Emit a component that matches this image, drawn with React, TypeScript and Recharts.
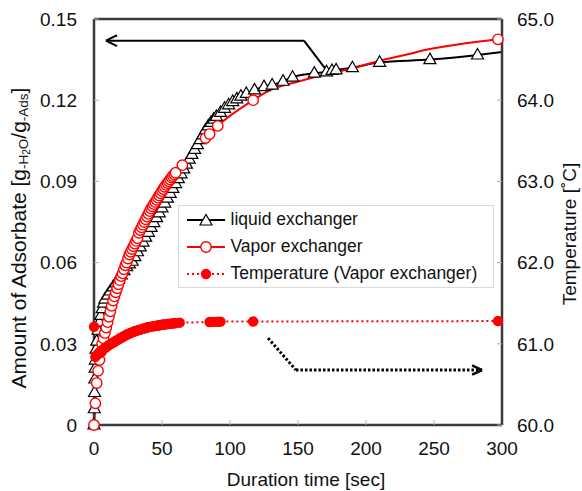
import { ComposedChart, Line, XAxis, YAxis, ReferenceLine, Legend } from 'recharts';

const FONT = '"Liberation Sans", Arial, sans-serif';

const timeTicks = [0, 50, 100, 150, 200, 250, 300];
const amountTicks = [0, 0.03, 0.06, 0.09, 0.12, 0.15];
const tempTicks = [60, 61, 62, 63, 64, 65];

// liquid exchanger, triangle markers
const liquidTime = [
  0, 0.2, 0.4, 0.6, 0.8, 1, 1.5, 2, 3, 4, 5, 6, 7, 8, 10, 12, 14, 16, 18, 20, 22, 24, 26, 28, 30, 32, 34,
  36, 38, 40, 42, 44, 46, 48, 50, 52, 54, 56, 58, 60, 62, 64, 66, 68, 70, 72, 74, 76, 78, 80, 82, 84, 86,
  88, 90, 93, 96, 99, 102, 105, 108, 112, 118, 125, 131, 139, 146, 162, 171, 175, 178, 190, 210, 247, 282,
];
const liquidAmount = [
  0, 0.006, 0.012, 0.017, 0.021, 0.024, 0.028, 0.031, 0.035, 0.038, 0.0405, 0.043, 0.045, 0.0465, 0.048,
  0.0495, 0.051, 0.0525, 0.054, 0.0555, 0.057, 0.0585, 0.0595, 0.0605, 0.0622, 0.064, 0.0658, 0.0676,
  0.0694, 0.0712, 0.073, 0.0748, 0.0766, 0.0784, 0.0802, 0.082, 0.0838, 0.0856, 0.0874, 0.0892, 0.091,
  0.0928, 0.0946, 0.0964, 0.0982, 0.1, 0.1018, 0.1036, 0.1054, 0.1072, 0.109, 0.1105, 0.1118, 0.113,
  0.114, 0.1155, 0.117, 0.1183, 0.1195, 0.1205, 0.1215, 0.1225, 0.1238, 0.125, 0.1256, 0.127, 0.1285,
  0.13, 0.1305, 0.131, 0.1312, 0.132, 0.134, 0.135, 0.1367,
];
// line runs on to the right edge after the last triangle
const liquidTailTime = [300];
const liquidTailAmount = [0.1378];

// vapor exchanger, open circles
const vaporTime = [
  0, 1, 2, 3, 4, 5, 6, 7, 8, 9, 10, 11, 12, 13, 14, 15, 16, 17, 18, 19, 20, 21, 22, 23, 24, 25, 26, 27, 28,
  29, 30, 31, 32, 33, 34, 35, 36, 37, 38, 39, 40, 41, 42, 43, 44, 45, 46, 47, 48, 49, 50, 51, 52, 53, 54,
  55, 56, 57, 58, 59, 60, 65, 82, 85, 91, 117, 297,
];
const vaporAmount = [
  0, 0.008, 0.0155, 0.02, 0.024, 0.027, 0.03, 0.032, 0.034, 0.036, 0.038, 0.04, 0.042, 0.044, 0.046,
  0.0475, 0.049, 0.0505, 0.052, 0.0535, 0.055, 0.056, 0.0575, 0.059, 0.06, 0.0615, 0.063, 0.064, 0.065,
  0.066, 0.067, 0.068, 0.069, 0.071, 0.072, 0.073, 0.074, 0.075, 0.076, 0.077, 0.078, 0.079, 0.08,
  0.0808, 0.0816, 0.0824, 0.0832, 0.084, 0.0848, 0.0856, 0.0864, 0.0872, 0.088, 0.0887, 0.0894, 0.09,
  0.0907, 0.0914, 0.092, 0.0926, 0.0932, 0.096, 0.106, 0.1075, 0.1105, 0.12, 0.1425,
];
// points on the fitted red curve between the last two circles
const vaporCurveTime = [127, 151, 170, 188, 210, 230, 247, 265, 282];
const vaporCurveAmount = [0.1231, 0.127, 0.1295, 0.1315, 0.1346, 0.1369, 0.1389, 0.1404, 0.1416];

// temperature (vapor exchanger), filled dots
const tempTime = [
  0, 1, 2, 3, 4, 5, 6, 7, 8, 9, 10, 11, 12, 13, 14, 15, 16, 17, 18, 19, 20, 21, 22, 23, 24, 25, 26, 27, 28,
  29, 30, 31, 32, 33, 34, 35, 36, 37, 38, 39, 40, 41, 42, 43, 44, 45, 46, 47, 48, 49, 50, 51, 52, 53, 54,
  55, 56, 57, 58, 59, 60, 63, 85, 87, 89, 91, 93, 117, 297,
];
const tempValue = [
  61.21, 60.84, 60.86, 60.875, 60.89, 60.905, 60.92, 60.935, 60.948, 60.96, 60.972, 60.984, 60.995,
  61.005, 61.015, 61.025, 61.035, 61.045, 61.055, 61.065, 61.075, 61.084, 61.093, 61.102, 61.111, 61.12,
  61.127, 61.134, 61.141, 61.148, 61.155, 61.16, 61.165, 61.17, 61.175, 61.18, 61.185, 61.19, 61.195,
  61.2, 61.205, 61.208, 61.211, 61.214, 61.217, 61.22, 61.223, 61.226, 61.229, 61.232, 61.235, 61.237,
  61.239, 61.241, 61.243, 61.245, 61.247, 61.249, 61.251, 61.253, 61.255, 61.26, 61.268, 61.27, 61.27,
  61.272, 61.273, 61.275, 61.28,
];

type Pt = { t: number; v: number; m: boolean };

const toSeries = (ts: number[], vs: number[], marked: boolean): Pt[] =>
  ts.map((t, i) => ({ t, v: vs[i], m: marked }));

const liquidData = [
  ...toSeries(liquidTime, liquidAmount, true),
  ...toSeries(liquidTailTime, liquidTailAmount, false),
].sort((a, b) => a.t - b.t);
const vaporData = [
  ...toSeries(vaporTime, vaporAmount, true),
  ...toSeries(vaporCurveTime, vaporCurveAmount, false),
].sort((a, b) => a.t - b.t);
const tempData = toSeries(tempTime, tempValue, true);

const triangle = (cx: number, cy: number) =>
  `M${cx},${cy - 6.5} L${cx + 6},${cy + 4} L${cx - 6},${cy + 4} Z`;

const TriangleDot = (p: any) =>
  p.payload && p.payload.m ? (
    <path key={`l${p.index}`} d={triangle(p.cx, p.cy)} fill="#fff" stroke="#000" strokeWidth={1.2} />
  ) : (
    <g key={`l${p.index}`} />
  );

const CircleDot = (p: any) =>
  p.payload && p.payload.m ? (
    <circle key={`v${p.index}`} cx={p.cx} cy={p.cy} r={5.2} fill="#fff" stroke="#ff0000" strokeWidth={1.4} />
  ) : (
    <g key={`v${p.index}`} />
  );

const FilledDot = (p: any) => (
  <circle key={`t${p.index}`} cx={p.cx} cy={p.cy} r={5.2} fill="#ff0000" stroke="none" />
);

function AmountTitle({ viewBox }: any) {
  const x = viewBox.x + 18;
  const y = viewBox.y + viewBox.height / 2 + 16;
  return (
    <text
      x={x}
      y={y}
      transform={`rotate(-90, ${x}, ${y})`}
      textAnchor="middle"
      dominantBaseline="central"
      fontFamily={FONT}
      fontSize={21}
      fill="#111"
    >
      Amount of Adsorbate [g
      <tspan fontSize={13.5} dy={5}>-H</tspan>
      <tspan fontSize={10} dy={3}>2</tspan>
      <tspan fontSize={13.5} dy={-3}>O</tspan>
      <tspan dy={-5}>/g</tspan>
      <tspan fontSize={13.5} dy={5}>-Ads</tspan>
      <tspan dy={-5}>]</tspan>
    </text>
  );
}

function TempTitle({ viewBox }: any) {
  const x = viewBox.x + 67;
  const y = viewBox.y + viewBox.height / 2 + 12;
  return (
    <text
      x={x}
      y={y}
      transform={`rotate(-90, ${x}, ${y})`}
      textAnchor="middle"
      dominantBaseline="central"
      fontFamily={FONT}
      fontSize={19}
      fill="#111"
    >
      Temperature [˚C]
    </text>
  );
}

const legendItems = [
  { name: 'liquid exchanger', color: '#000', kind: 'tri' },
  { name: 'Vapor exchanger', color: '#ff0000', kind: 'open' },
  { name: 'Temperature (Vapor exchanger)', color: '#ff0000', kind: 'dot' },
];

function LegendBox() {
  return (
    <div
      style={{
        border: '1.5px solid #d9d9d9',
        background: '#fff',
        width: 306,
        paddingLeft: 7.5,
        fontFamily: FONT,
        fontSize: 17.5,
        color: '#111',
      }}
    >
      {legendItems.map((it) => (
        <div key={it.name} style={{ display: 'flex', alignItems: 'center', height: 27 }}>
          <svg width={38} height={16} style={{ marginRight: 6 }}>
            <line
              x1={0}
              y1={8}
              x2={38}
              y2={8}
              stroke={it.color}
              strokeWidth={2}
              strokeDasharray={it.kind === 'dot' ? '2 3' : undefined}
            />
            {it.kind === 'tri' && <path d={triangle(19, 9)} fill="#fff" stroke="#000" strokeWidth={1.2} />}
            {it.kind === 'open' && <circle cx={19} cy={8} r={5.2} fill="#fff" stroke="#ff0000" strokeWidth={1.4} />}
            {it.kind === 'dot' && <circle cx={19} cy={8} r={5.2} fill="#ff0000" />}
          </svg>
          <span>{it.name}</span>
        </div>
      ))}
    </div>
  );
}

const frame = { stroke: '#3a3a3a', strokeWidth: 2.5 };
const tickLine = { stroke: '#b0b0b0', strokeWidth: 1 };
const tickStyle = { fill: '#111', fontSize: 19, fontFamily: FONT };

export default function App() {
  return (
    <div style={{ width: 582, height: 491, background: '#fff' }}>
      <style>{'body{margin:0}'}</style>
      <ComposedChart width={582} height={491} margin={{ top: 19, right: 0, bottom: 0, left: 0 }}>
        <XAxis
          dataKey="t"
          type="number"
          domain={[0, 300]}
          ticks={timeTicks}
          height={66}
          axisLine={frame}
          tickLine={tickLine}
          tickSize={-5}
          tickMargin={21.5}
          tick={tickStyle}
          label={{
            value: 'Duration time [sec]',
            position: 'insideBottom',
            offset: 0,
            dy: -5,
            dx: 8,
            style: { fill: '#111', fontSize: 19, fontFamily: FONT },
          }}
        />
        <YAxis
          yAxisId="left"
          domain={[0, 0.15]}
          ticks={amountTicks}
          width={94}
          axisLine={frame}
          tickLine={tickLine}
          tickSize={-5}
          tickMargin={22}
          tick={tickStyle}
          tickFormatter={(v: number) => (v === 0 ? '0' : v.toFixed(2))}
          label={<AmountTitle />}
        />
        <YAxis
          yAxisId="right"
          orientation="right"
          domain={[60, 65]}
          ticks={tempTicks}
          width={80}
          axisLine={frame}
          tickLine={tickLine}
          tickSize={-5}
          tickMargin={20}
          tick={tickStyle}
          tickFormatter={(v: number) => v.toFixed(1)}
          label={<TempTitle />}
        />
        <ReferenceLine yAxisId="left" y={0.15} stroke="#3a3a3a" strokeWidth={2.5} />

        {/* solid arrow pointing at the left axis */}
        <ReferenceLine yAxisId="left" segment={[{ x: 172, y: 0.1304 }, { x: 154.4, y: 0.142 }]} stroke="#000" strokeWidth={2} ifOverflow="visible" />
        <ReferenceLine yAxisId="left" segment={[{ x: 154.4, y: 0.142 }, { x: 8.8, y: 0.142 }]} stroke="#000" strokeWidth={2} ifOverflow="visible" />
        <ReferenceLine yAxisId="left" segment={[{ x: 8.8, y: 0.142 }, { x: 16.9, y: 0.144 }]} stroke="#000" strokeWidth={2} ifOverflow="visible" />
        <ReferenceLine yAxisId="left" segment={[{ x: 8.8, y: 0.142 }, { x: 16.9, y: 0.14 }]} stroke="#000" strokeWidth={2} ifOverflow="visible" />

        {/* dotted arrow pointing at the right axis */}
        <ReferenceLine yAxisId="left" segment={[{ x: 128, y: 0.0321 }, { x: 148.5, y: 0.0203 }]} stroke="#000" strokeWidth={3} strokeDasharray="2.5 2" ifOverflow="visible" />
        <ReferenceLine yAxisId="left" segment={[{ x: 148.5, y: 0.0203 }, { x: 285.3, y: 0.0203 }]} stroke="#000" strokeWidth={3} strokeDasharray="2.5 2" ifOverflow="visible" />
        <ReferenceLine yAxisId="left" segment={[{ x: 285.3, y: 0.0203 }, { x: 278, y: 0.022 }]} stroke="#000" strokeWidth={2.5} ifOverflow="visible" />
        <ReferenceLine yAxisId="left" segment={[{ x: 285.3, y: 0.0203 }, { x: 278, y: 0.0186 }]} stroke="#000" strokeWidth={2.5} ifOverflow="visible" />

        <Line
          yAxisId="left"
          data={liquidData}
          dataKey="v"
          name="liquid exchanger"
          type="monotone"
          stroke="#000"
          strokeWidth={2}
          dot={TriangleDot}
          activeDot={false}
          isAnimationActive={false}
        />
        <Line
          yAxisId="left"
          data={vaporData}
          dataKey="v"
          name="Vapor exchanger"
          type="monotone"
          stroke="#ff0000"
          strokeWidth={2}
          dot={CircleDot}
          activeDot={false}
          isAnimationActive={false}
        />
        <Line
          yAxisId="right"
          data={tempData}
          dataKey="v"
          name="Temperature (Vapor exchanger)"
          type="linear"
          stroke="#ff0000"
          strokeWidth={2}
          strokeDasharray="2 3"
          dot={FilledDot}
          activeDot={false}
          isAnimationActive={false}
        />
        <Legend
          layout="vertical"
          align="center"
          verticalAlign="middle"
          content={<LegendBox />}
          wrapperStyle={{ left: 178, top: 205, width: 'auto' }}
        />
      </ComposedChart>
    </div>
  );
}
